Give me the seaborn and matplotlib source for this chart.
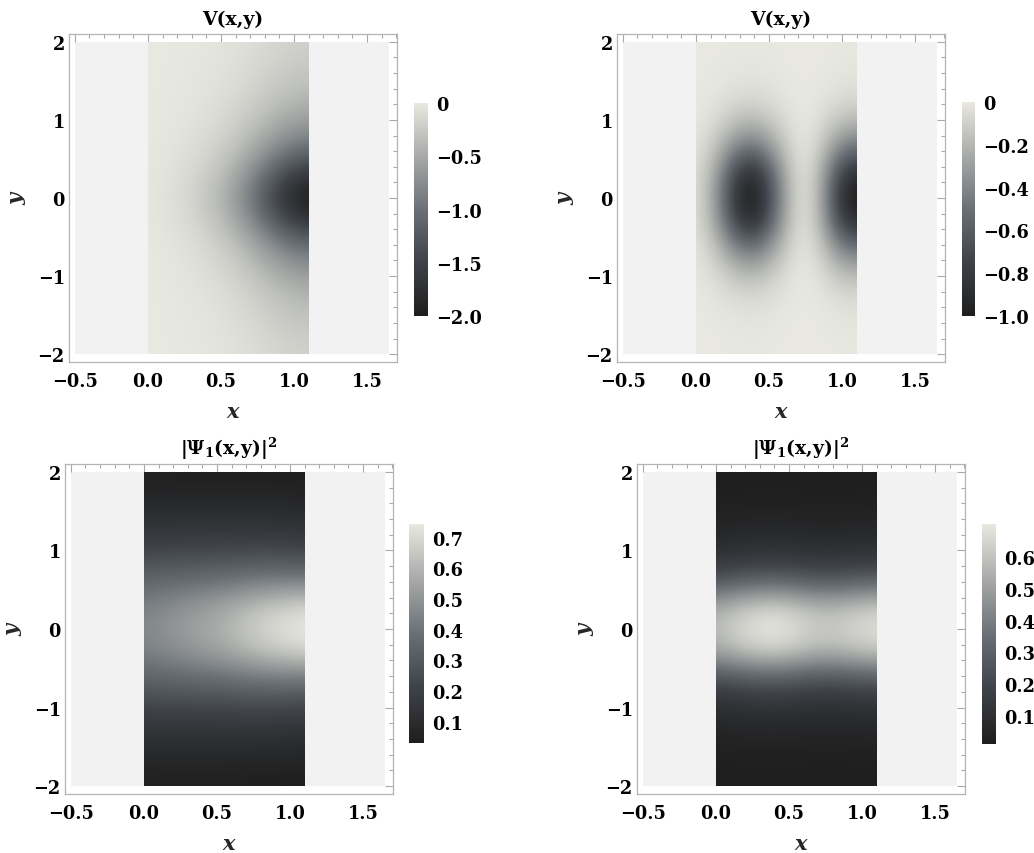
import numpy as np
import matplotlib
matplotlib.use("Agg")
import matplotlib.pyplot as plt
from matplotlib.patches import Rectangle
from matplotlib.ticker import MultipleLocator, FuncFormatter
import seaborn as sns

# ---------------- data ----------------
# y sample rows, top (y=2) to bottom (y=-2)
y_nodes = [2.0, 1.75, 1.5, 1.25, 1.0, 0.75, 0.5, 0.25, 0.0,
           -0.25, -0.5, -0.75, -1.0, -1.25, -1.5, -1.75, -2.0]

# Panel 1: V(x,y), single well at the right edge (depth -2)
v1_x = [0.0, 0.1375, 0.275, 0.4125, 0.55, 0.6875, 0.825, 0.9625, 1.1]
v1_x_profile = [0.01, 0.03, 0.07, 0.14, 0.25, 0.43, 0.66, 0.88, 1.0]
v1_y_profile = [0.095, 0.12, 0.155, 0.21, 0.30, 0.43, 0.63, 0.87, 1.0,
                0.87, 0.63, 0.43, 0.30, 0.21, 0.155, 0.12, 0.095]
v1_depth = -2.0

# Panel 2: V(x,y), two wells (depth -1)
v2_x = [0.0, 0.1, 0.2, 0.3, 0.4, 0.5, 0.6, 0.7, 0.8, 0.9, 1.0, 1.1]
v2_x_profile = [0.05, 0.22, 0.55, 0.90, 0.98, 0.70, 0.32, 0.06, 0.10, 0.44, 0.85, 1.0]
v2_y_profile = [0.005, 0.01, 0.025, 0.07, 0.18, 0.38, 0.66, 0.92, 1.0,
                0.92, 0.66, 0.38, 0.18, 0.07, 0.025, 0.01, 0.005]
v2_depth = -1.0

# Panel 3: |Psi_1|^2 for the single well (rows = y_nodes, cols = v1_x)
psi1_table = [
    [.040, .040, .040, .040, .040, .040, .039, .037, .035],
    [.065, .065, .064, .064, .064, .063, .062, .059, .055],
    [.100, .100, .100, .100, .100, .100, .099, .095, .089],
    [.150, .151, .152, .153, .152, .154, .153, .149, .142],
    [.220, .223, .226, .228, .230, .235, .236, .232, .224],
    [.300, .308, .314, .322, .328, .340, .348, .348, .343],
    [.380, .397, .413, .432, .450, .478, .501, .516, .522],
    [.440, .468, .496, .528, .560, .605, .647, .678, .700],
    [.460, .490, .520, .555, .590, .640, .685, .720, .745],
    [.440, .468, .496, .528, .560, .605, .647, .678, .700],
    [.380, .397, .413, .432, .450, .478, .501, .516, .522],
    [.300, .308, .314, .322, .328, .340, .348, .348, .343],
    [.220, .223, .226, .228, .230, .235, .236, .232, .224],
    [.150, .151, .152, .153, .152, .154, .153, .149, .142],
    [.100, .100, .100, .100, .100, .100, .099, .095, .089],
    [.065, .065, .064, .064, .064, .063, .062, .059, .055],
    [.040, .040, .040, .040, .040, .040, .039, .037, .035],
]

# Panel 4: |Psi_1|^2 for the double well (band along y = 0)
psi2_x_profile = [0.58, 0.64, 0.685, 0.70, 0.665, 0.625, 0.625, 0.655, 0.68]
psi2_y_profile = [0.02, 0.03, 0.05, 0.09, 0.16, 0.31, 0.60, 0.92, 1.0,
                  0.92, 0.60, 0.31, 0.16, 0.09, 0.05, 0.03, 0.02]

titles = ["V(x,y)", "V(x,y)", r"$\mathrm{|\Psi_1(x{,}y)|^2}$", r"$\mathrm{|\Psi_1(x{,}y)|^2}$"]
cbar_ticks = [[0, -0.5, -1.0, -1.5, -2.0],
              [0, -0.2, -0.4, -0.6, -0.8, -1.0],
              [0.1, 0.2, 0.3, 0.4, 0.5, 0.6, 0.7],
              [0.1, 0.2, 0.3, 0.4, 0.5, 0.6]]
value_ranges = [(-2.0, 0.0), (-1.0, 0.0), (0.03, 0.745), (0.012, 0.704)]

# ---------------- style ----------------
sns.set_theme(style="white")
plt.rcParams.update({
    "font.family": ["DejaVu Serif"],
    "font.weight": "bold",
    "axes.titleweight": "bold",
    "axes.labelweight": "bold",
    "mathtext.fontset": "custom",
    "mathtext.rm": "DejaVu Serif:bold",
    "mathtext.it": "DejaVu Serif:italic:bold",
    "mathtext.bf": "DejaVu Serif:bold",
    "axes.unicode_minus": True,
    "text.color": "black",
    "xtick.color": "black",
    "ytick.color": "black",
})

cmap = sns.blend_palette(["#1e1e1e", "#3e4248", "#6a7076", "#a8aaa8", "#e8e8e0"], as_cmap=True)

W, H = 1034, 854
fig = plt.figure(figsize=(W / 100, H / 100), dpi=100)
fig.patch.set_facecolor("white")


def px_rect(left, top, right, bottom):
    return [left / W, 1 - bottom / H, (right - left) / W, (bottom - top) / H]


axes_rects = [px_rect(69, 35, 397, 363), px_rect(617, 35, 945, 363),
              px_rect(65, 465, 393, 795), px_rect(637, 465, 965, 795)]
cbar_rects = [px_rect(414, 104, 428, 317), px_rect(962, 103, 975, 317),
              px_rect(409, 525, 424, 744), px_rect(982, 525, 996, 745)]

V1 = v1_depth * np.outer(v1_y_profile, v1_x_profile)
V2 = v2_depth * np.outer(v2_y_profile, v2_x_profile)
P1 = np.array(psi1_table)
P2 = np.outer(psi2_y_profile, psi2_x_profile)
fields = [(V1, v1_x), (V2, v2_x), (P1, v1_x), (P2, v1_x)]


def cfmt(v, pos):
    if abs(v) < 1e-9:
        return "0"
    return f"{v:.1f}".replace("-", "\u2212")


for i in range(4):
    data, xs = fields[i]
    vmin, vmax = value_ranges[i]
    ax = fig.add_axes(axes_rects[i])
    ax.set_facecolor("white")
    ax.add_patch(Rectangle((-0.5, -2.0), 2.15, 4.0, facecolor="#f2f2f2",
                           edgecolor="none", zorder=0))
    dx = xs[1] - xs[0]
    dy = abs(y_nodes[1] - y_nodes[0])
    im = ax.imshow(data, cmap=cmap, vmin=vmin, vmax=vmax, origin="upper",
                   extent=(xs[0] - dx / 2, xs[-1] + dx / 2,
                           y_nodes[-1] - dy / 2, y_nodes[0] + dy / 2),
                   aspect="auto", interpolation="bicubic", zorder=1)
    clip = Rectangle((xs[0], y_nodes[-1]), xs[-1] - xs[0], y_nodes[0] - y_nodes[-1],
                     transform=ax.transData)
    im.set_clip_path(clip)
    ax.set_xlim(-0.54, 1.705)
    ax.set_ylim(-2.1, 2.1)

    for s in ax.spines.values():
        s.set_color("#b4b4b4")
        s.set_linewidth(0.9)
    ax.xaxis.set_major_locator(MultipleLocator(0.5))
    ax.xaxis.set_minor_locator(MultipleLocator(0.1))
    ax.yaxis.set_major_locator(MultipleLocator(1))
    ax.yaxis.set_minor_locator(MultipleLocator(0.2))
    ax.tick_params(which="both", direction="in", top=True, right=True,
                   color="#a8a8a8", width=0.8, labelsize=12.8)
    ax.tick_params(which="major", length=6)
    ax.tick_params(which="minor", length=3)
    ax.tick_params(axis="x", pad=7)
    ax.tick_params(axis="y", pad=3)
    ax.set_title(titles[i], fontsize=13.5, fontweight="bold", pad=7)
    ax.set_xlabel("x", fontsize=15, fontstyle="italic", fontweight="bold", labelpad=8)
    ax.set_ylabel("y", fontsize=15, fontstyle="italic", fontweight="bold", labelpad=8)

    cax = fig.add_axes(cbar_rects[i])
    cb = fig.colorbar(im, cax=cax, ticks=cbar_ticks[i])
    cb.outline.set_visible(False)
    cax.yaxis.set_major_formatter(FuncFormatter(cfmt))
    cax.tick_params(length=0, pad=6, labelsize=12.8)

fig.savefig("out.png", dpi=100)
